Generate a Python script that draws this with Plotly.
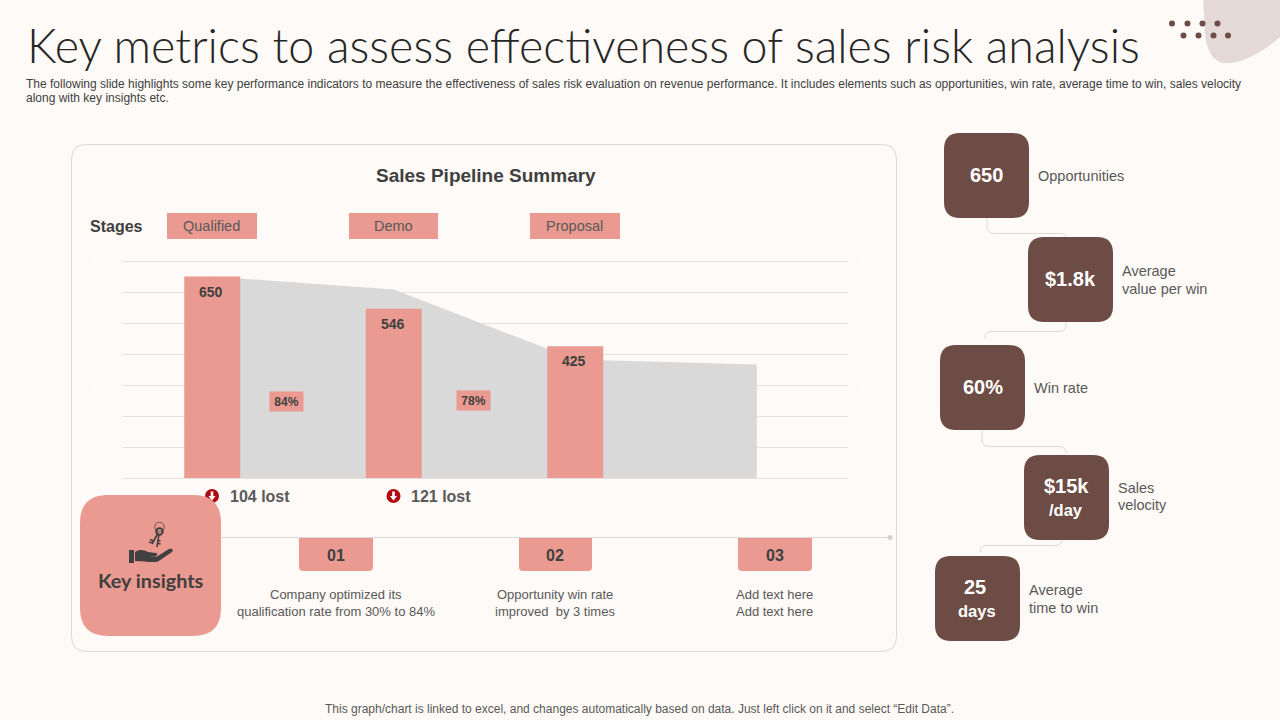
import plotly.graph_objects as go

# ---- chart data ----
stages = ["Qualified", "Demo", "Proposal"]
stage_pos = [0, 1, 2, 3]
bar_values = [650, 546, 425]
area_values = [650, 608, 382, 366]
conversion_labels = ["84%", "78%"]
conversion_pos = [0.41, 1.44]
conversion_y = [246, 250]
lost_labels = ["104 lost", "121 lost"]
axis_ticks = [0, 100, 200, 300, 400, 500, 600, 700]

# ---- text content ----
TITLE = "Key metrics to assess effectiveness of sales risk analysis"
SUB1 = ("The following slide highlights some key performance indicators to measure the effectiveness of sales risk "
        "evaluation on revenue performance. It includes elements such as opportunities, win rate, average time to win, sales velocity")
SUB2 = "along with key insights etc."
FOOT = "This graph/chart is linked to excel, and changes automatically based on data. Just left click on it and select “Edit Data”."

BG = "#fefaf7"
PINK = "#ea9a90"
BROWN = "#6d4c45"
GREY = "#d9d9d9"
LINE = "#e6e1de"
W, H = 1280, 720
ARIAL = "Liberation Sans"


def X(p):
    return p / W


def Y(p):
    return 1 - p / H


shapes = []
annots = []


def path(d_points, fill=None, line=None, lw=1, layer="below"):
    """d_points: list of tokens: letter or (x, y) pixel pair."""
    s = ""
    for t in d_points:
        s += t if isinstance(t, str) else f"{X(t[0]):.5f},{Y(t[1]):.5f} "
    shapes.append(dict(type="path", xref="paper", yref="paper", path=s, layer=layer,
                       fillcolor=fill if fill else "rgba(0,0,0,0)",
                       line=dict(color=line if line else "rgba(0,0,0,0)", width=lw if line else 0)))


def rrect(x0, y0, x1, y1, r, fill=None, line=None, lw=1, layer="below", corners=(1, 1, 1, 1)):
    tl, tr, br, bl = [r * c for c in corners]
    pts = ["M", (x0 + tl, y0), "L", (x1 - tr, y0)]
    if tr:
        pts += ["Q", (x1, y0), (x1, y0 + tr)]
    pts += ["L", (x1, y1 - br)]
    if br:
        pts += ["Q", (x1, y1), (x1 - br, y1)]
    pts += ["L", (x0 + bl, y1)]
    if bl:
        pts += ["Q", (x0, y1), (x0, y1 - bl)]
    pts += ["L", (x0, y0 + tl)]
    if tl:
        pts += ["Q", (x0, y0), (x0 + tl, y0)]
    pts += ["Z"]
    path(pts, fill, line, lw, layer)


def circle(cx, cy, r, fill=None, line=None, lw=1, layer="above"):
    shapes.append(dict(type="circle", xref="paper", yref="paper", layer=layer,
                       x0=X(cx - r), x1=X(cx + r), y0=Y(cy + r), y1=Y(cy - r),
                       fillcolor=fill if fill else "rgba(0,0,0,0)",
                       line=dict(color=line if line else "rgba(0,0,0,0)", width=lw if line else 0)))


def txt(x, y, s, size=14, color="#595959", anchor="center", bold=False, family=ARIAL, weight=None):
    f = dict(size=size, color=color, family=family)
    if weight:
        f["weight"] = weight
    elif bold:
        f["weight"] = 700
    annots.append(dict(xref="paper", yref="paper", x=X(x), y=Y(y), text=s, showarrow=False, borderpad=0,
                       xanchor=anchor, yanchor="middle", font=f, align=anchor))


def connector(x0, y0, ymid, x1, y1, r=7):
    sign = 1 if x1 > x0 else -1
    path(["M", (x0, y0), "L", (x0, ymid - r), "Q", (x0, ymid), (x0 + sign * r, ymid),
          "L", (x1 - sign * r, ymid), "Q", (x1, ymid), (x1, ymid + r if ymid + r < y1 else y1)],
         line="#dcd8d5", lw=1)


# decoration top right
path(["M", (1203, 0), "C", (1206, 20), (1200, 55), (1222, 63), "C", (1245, 65), (1268, 47), (1280, 37),
      "L", (1280, 0), "Z"], fill="#e4d9d7")
for cx in [1172, 1187.5, 1202.5, 1217.5]:
    circle(cx, 23.5, 3, fill=BROWN)
for cx in [1183.5, 1198.5, 1213.5, 1228]:
    circle(cx, 35.5, 3, fill=BROWN)

# main panel
rrect(71.5, 144.5, 896.5, 651.5, 15, line="#dcd8d5", lw=1)

# stage chips
for (x0, x1), s in zip([(167, 257), (349, 438), (530, 620)], stages):
    rrect(x0, 213, x1, 239, 0.1, fill=PINK)
    txt((x0 + x1) / 2 - 0.5, 225.5, s, size=14.5, color="#595959")

txt(486, 175.5, "Sales Pipeline Summary", size=19, color="#404040", bold=True)
txt(89, 226, "Stages", size=16, color="#404040", anchor="left", bold=True)

# lost markers
for cx, tx, s in zip([212, 393.5], [229, 410], lost_labels):
    circle(cx, 496, 7, fill="#b00a12")
    path(["M", (cx - 1.3, 491.5), "L", (cx + 1.3, 491.5), "L", (cx + 1.3, 496), "L", (cx + 3.6, 496),
          "L", (cx, 500.5), "L", (cx - 3.6, 496), "L", (cx - 1.3, 496), "Z"], fill="#ffffff", layer="above")
    txt(tx, 496, s, size=16, color="#595959", anchor="left", bold=True)

# insights rule and tabs
shapes.append(dict(type="line", xref="paper", yref="paper", layer="below", x0=X(221), x1=X(890), y0=Y(537.5), y1=Y(537.5),
                   line=dict(color="#dcd8d5", width=1)))
circle(890, 537.5, 2.5, fill="#d5d0cd")
for (x0, x1), s in zip([(299, 373), (519, 592), (738, 812)], ["01", "02", "03"]):
    rrect(x0, 538, x1, 571, 4, fill=PINK, corners=(0, 0, 1, 1))
    txt((x0 + x1) / 2 - 0.5, 555, s, size=16, color="#404040", bold=True)

for cx, a, b in [(335.5, "Company optimized its", "qualification rate from 30% to 84%"),
                 (555, "Opportunity win rate", "improved  by 3 times"),
                 (774.5, "Add text here", "Add text here")]:
    txt(cx, 594.5, a, size=13, color="#595959")
    txt(cx, 611, b, size=13, color="#595959")

# key insights card
rrect(80, 495, 221, 636, 28, fill=PINK, layer="above")
txt(150.5, 580, "Key insights", size=19.8, color="#404040", family="Lato", bold=True)
ICON = "#404040"
# hand
path(["M", (129, 550), "L", (134, 550), "L", (134, 563), "L", (129, 563), "Z"], fill=ICON, layer="above")
path(["M", (135, 552), "C", (140, 549), (144, 550), (148, 552), "L", (156, 553), "C", (158, 553), (158, 556), (155, 556),
      "L", (150, 556), "L", (157, 556.5), "L", (169, 549), "C", (172, 548), (174, 550), (172, 552),
      "L", (158, 561.5), "C", (152, 563), (144, 561), (135, 561), "Z"], fill=ICON, layer="above")
# keys
circle(159.5, 527, 4.8, line="#6b5350", lw=1)
circle(159.5, 531.5, 3.2, line=ICON, lw=2)
path(["M", (159, 534), "L", (157, 547), "M", (157, 543), "L", (160.5, 544), "M", (157.5, 540), "L", (160.5, 541)],
     line=ICON, lw=1.6, layer="above")
path(["M", (158, 533), "L", (152, 544), "M", (153.5, 541), "L", (150, 539.5), "M", (152.5, 543), "L", (149, 542)],
     line=ICON, lw=1.6, layer="above")

# right hand KPI cards
connector(987, 218, 233.5, 1066, 237)
connector(1066, 322, 331.5, 985, 345)
connector(982, 430, 446.5, 1066, 455)
connector(1062, 540, 545.5, 980, 556)

cards = [
    (944, 133, ["650"], ["Opportunities"], 0, 0),
    (1028, 237, ["$1.8k"], ["Average", "value per win"], 0.5, 0),
    (940, 345, ["60%"], ["Win rate"], 0, 0),
    (1024, 455, ["$15k", "/day"], ["Sales", "velocity"], 0, -1),
    (935, 556, ["25", "days"], ["Average", "time to win"], -3, 0),
]
for x0, y0, big, small, dx, dy in cards:
    rrect(x0, y0, x0 + 85, y0 + 85, 16, fill=BROWN)
    cx, cy = x0 + 42.5, y0 + 42.5
    if len(big) == 1:
        txt(cx, cy - 0.5, big[0], size=20, color="#ffffff", bold=True)
    else:
        txt(cx + dx, cy - 11.5, big[0], size=20, color="#ffffff", bold=True)
        txt(cx - 1, cy + 12, big[1], size=16.5, color="#ffffff", bold=True)
    tx = x0 + 94 - 1
    if len(small) == 1:
        txt(tx, cy, small[0], size=14.5, color="#595959", anchor="left")
    else:
        txt(tx, cy - 9 + dy, small[0], size=14.5, color="#595959", anchor="left")
        txt(tx, cy + 9 + dy, small[1], size=14.5, color="#595959", anchor="left")

# headline text
txt(26, 45, TITLE, size=46.6, color="#262626", anchor="left", family="Lato", weight=300)
txt(25, 84, SUB1, size=12, color="#404040", anchor="left")
txt(25, 98, SUB2, size=12, color="#404040", anchor="left")
txt(639, 708.5, FOOT, size=12, color="#595959")

# ---- traces ----
fig = go.Figure()
fig.add_trace(go.Scatter(x=stage_pos, y=area_values, mode="lines", fill="tozeroy", fillcolor=GREY,
                         line=dict(width=0, color=GREY), hoverinfo="skip", showlegend=False,
                         xaxis="x", yaxis="y"))
fig.add_trace(go.Bar(x=stage_pos[:3], y=bar_values, width=56 / 181.5, marker=dict(color=PINK, line=dict(width=0)),
                     showlegend=False, xaxis="x2", yaxis="y2"))
# value labels on the bars
for xv, yv in zip(stage_pos, bar_values):
    annots.append(dict(xref="x2", yref="y2", x=xv, y=yv, xshift=-1, yshift=-15, text=str(yv), showarrow=False,
                       xanchor="center", yanchor="middle",
                       font=dict(size=14, color="#404040", family=ARIAL, weight=700)))
for xv, yv, s in zip(conversion_pos, conversion_y, conversion_labels):
    annots.append(dict(xref="x2", yref="y2", x=xv, y=yv, text=s, showarrow=False, xanchor="center", yanchor="middle",
                       font=dict(size=12, color="#404040", family=ARIAL, weight=700),
                       bgcolor=PINK, width=33, height=19, borderpad=0))

PAD = 10 * 217 / 700          # pixels for 10 axis units, keeps the 0 and 700 gridlines drawn
x_dom = [X(121.5), X(847.5)]
y_dom = [Y(478 + PAD), Y(261 - PAD)]
y_range = [-10, 710]
faint = "#fffdfc"
fig.update_layout(
    width=W, height=H, margin=dict(l=0, r=0, t=0, b=0, pad=0, autoexpand=False), autosize=False,
    paper_bgcolor=BG, plot_bgcolor="rgba(0,0,0,0)", showlegend=False,
    xaxis=dict(domain=x_dom, range=[-0.5, 3.5], showgrid=False, showticklabels=False, zeroline=False,
               ticks="", fixedrange=True),
    yaxis=dict(domain=y_dom, range=y_range, tickvals=axis_ticks, gridcolor=LINE, gridwidth=1, zeroline=False,
               showline=False, ticks="", tickfont=dict(size=12, color=faint, family=ARIAL), ticklabelstandoff=10,
               fixedrange=True),
    xaxis2=dict(domain=x_dom, range=[-0.5, 3.5], overlaying="x", visible=False, fixedrange=True, anchor="y2"),
    yaxis2=dict(domain=y_dom, range=y_range, overlaying="y", side="right", tickvals=axis_ticks, showgrid=False,
                zeroline=False, ticks="", tickfont=dict(size=12, color=faint, family=ARIAL), ticklabelstandoff=10,
                fixedrange=True, anchor="x2"),
    shapes=shapes, annotations=annots,
)
fig.write_html("out.html", config=dict(displayModeBar=False),
               post_script="document.body.style.margin='0';document.body.style.overflow='hidden';")
